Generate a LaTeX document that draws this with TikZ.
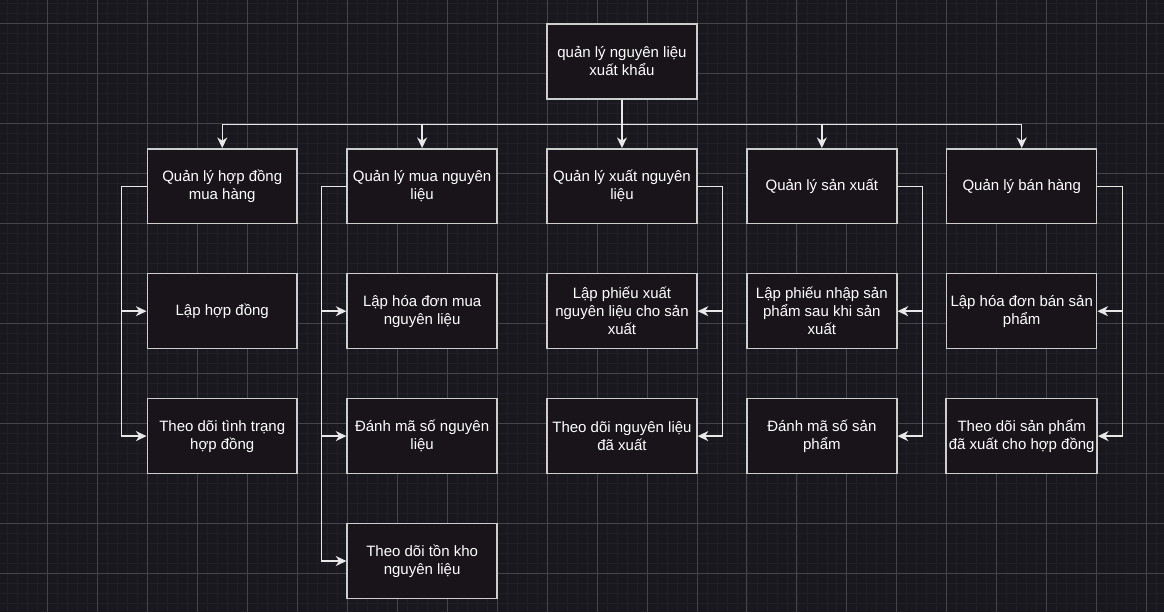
\documentclass[tikz,border=0pt]{standalone}
\usepackage{fontspec}
\setmainfont{Liberation Sans}
\usepackage{tikz}
\usetikzlibrary{
    arrows.meta,
    calc
}
\definecolor{bgcol}{RGB}{26,24,31}
\definecolor{minorcol}{RGB}{33,31,39}
\definecolor{majorcol}{RGB}{68,68,74}
\definecolor{boxfill}{RGB}{24,20,26}
\definecolor{boxline}{RGB}{205,205,205}
\definecolor{linkcol}{RGB}{232,232,232}

\begin{document}
\begin{tikzpicture}[x=0.75pt,y=-0.75pt,
    box/.style={draw=boxline,fill=boxfill,line width=1.1pt,text=white,
        minimum width=112.5pt,minimum height=56.25pt,inner sep=2pt,align=center,
        font=\fontsize{11.25pt}{13.5pt}\selectfont},
    link/.style={draw=linkcol,line width=1.1pt,
        -{Stealth[length=8pt,width=7.5pt,inset=2.5pt]}}]
\fill[bgcol] (0,0) rectangle (1164,612);
\foreach \x in {7,17,...,1163} \draw[minorcol,line width=0.5pt] (\x,0) -- (\x,612);
\foreach \y in {3,13,...,611} \draw[minorcol,line width=0.5pt] (0,\y) -- (1164,\y);
\foreach \x in {47,97,...,1163} \draw[majorcol,line width=0.6pt] (\x,0) -- (\x,612);
\foreach \y in {23,73,...,611} \draw[majorcol,line width=0.6pt] (0,\y) -- (1164,\y);
\useasboundingbox (0,0) rectangle (1164,612);

\node[box] (root) at (622,61) {quản lý nguyên liệu\\xuất khẩu};

\node[box] (hopdong) at (222,186) {Quản lý hợp đồng\\mua hàng};
\node[box] (muanl) at (422,186) {Quản lý mua nguyên\\liệu};
\node[box] (xuatnl) at (622,186) {Quản lý xuất nguyên\\liệu};
\node[box] (sanxuat) at (822,186) {Quản lý sản xuất};
\node[box] (banhang) at (1022,186) {Quản lý bán hàng};

\node[box] (laphd) at (222,311) {Lập hợp đồng};
\node[box] (theodoihd) at (222,436) {Theo dõi tình trạng\\hợp đồng};

\node[box] (hoadonmua) at (422,311) {Lập hóa đơn mua\\nguyên liệu};
\node[box] (mason) at (422,436) {Đánh mã số nguyên\\liệu};
\node[box] (tonkho) at (422,561) {Theo dõi tồn kho\\nguyên liệu};

\node[box] (phieuxuat) at (622,311) {Lập phiếu xuất\\nguyên liệu cho sản\\xuất};
\node[box] (daxuat) at (622,436) {Theo dõi nguyên liệu\\đã xuất};

\node[box] (phieunhap) at (822,311) {Lập phiếu nhập sản\\phẩm sau khi sản\\xuất};
\node[box] (masosp) at (822,436) {Đánh mã số sản\\phẩm};

\node[box] (hoadonban) at (1022,311) {Lập hóa đơn bán sản\\phẩm};
\node[box] (theodoisp) at (1022,436) {Theo dõi sản phẩm\\đã xuất cho hợp đồng};

\foreach \m in {hopdong,muanl,xuatnl,sanxuat,banhang}
    \draw[link] (root.south) -- ++(0,25) -| (\m.north);

\foreach \c in {laphd,theodoihd}
    \draw[link] (hopdong.west) -- ++(-25,0) |- (\c.west);
\foreach \c in {hoadonmua,mason,tonkho}
    \draw[link] (muanl.west) -- ++(-25,0) |- (\c.west);
\foreach \c in {phieuxuat,daxuat}
    \draw[link] (xuatnl.east) -- ++(25,0) |- (\c.east);
\foreach \c in {phieunhap,masosp}
    \draw[link] (sanxuat.east) -- ++(25,0) |- (\c.east);
\foreach \c in {hoadonban,theodoisp}
    \draw[link] (banhang.east) -- ++(25,0) |- (\c.east);
\end{tikzpicture}
\end{document}
